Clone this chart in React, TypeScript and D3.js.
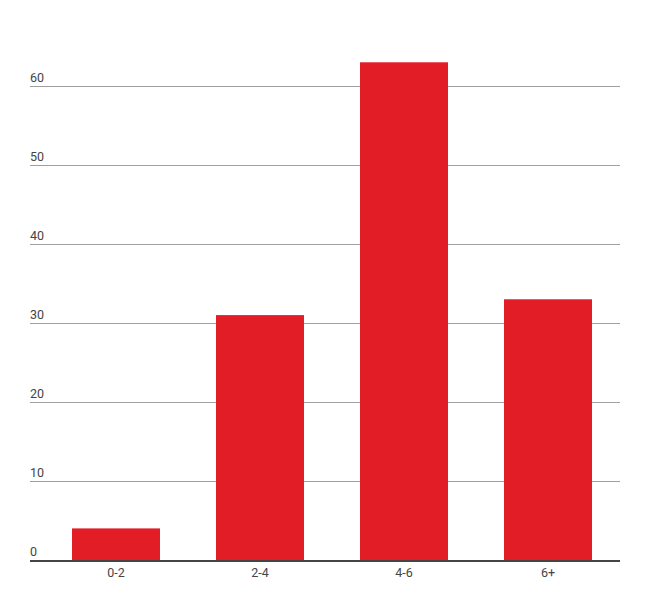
import React from "react";
import * as d3 from "d3";

const categories = ["0-2", "2-4", "4-6", "6+"];
const values = [4, 31, 63, 33];
const yTicks = [0, 10, 20, 30, 40, 50, 60];

export default function App() {
  const W = 650, H = 612;
  const x = d3.scaleBand<string>().domain(categories).range([44, 620]).paddingInner(56 / 144).paddingOuter(28 / 144);
  const y = d3.scaleLinear().domain([0, 60]).range([560, 86]);
  return (
    <svg width={W} height={H} style={{ position: "absolute", left: 0, top: 0, fontFamily: "Roboto, sans-serif" }}>
      <rect width={W} height={H} fill="#fff" />
      {yTicks.filter(t => t > 0).map(t => (
        <line key={t} x1={30} x2={620} y1={Math.round(y(t)) + 0.5} y2={Math.round(y(t)) + 0.5} stroke="#a0a0a0" strokeWidth={1} />
      ))}
      {yTicks.map(t => (
        <text key={"l" + t} x={30} y={y(t) - 4.5} fontSize={12.5} fill="#444">{t}</text>
      ))}
      {categories.map((c, i) => (
        <rect key={c} x={x(c)} y={y(values[i])} width={x.bandwidth()} height={y(0) - y(values[i])} fill="#e31d25" />
      ))}
      <line x1={30} x2={620} y1={561} y2={561} stroke="#444" strokeWidth={2} />
      {categories.map(c => (
        <text key={"x" + c} x={(x(c) as number) + x.bandwidth() / 2} y={577} fontSize={12.5} fill="#444" textAnchor="middle">{c}</text>
      ))}
    </svg>
  );
}
